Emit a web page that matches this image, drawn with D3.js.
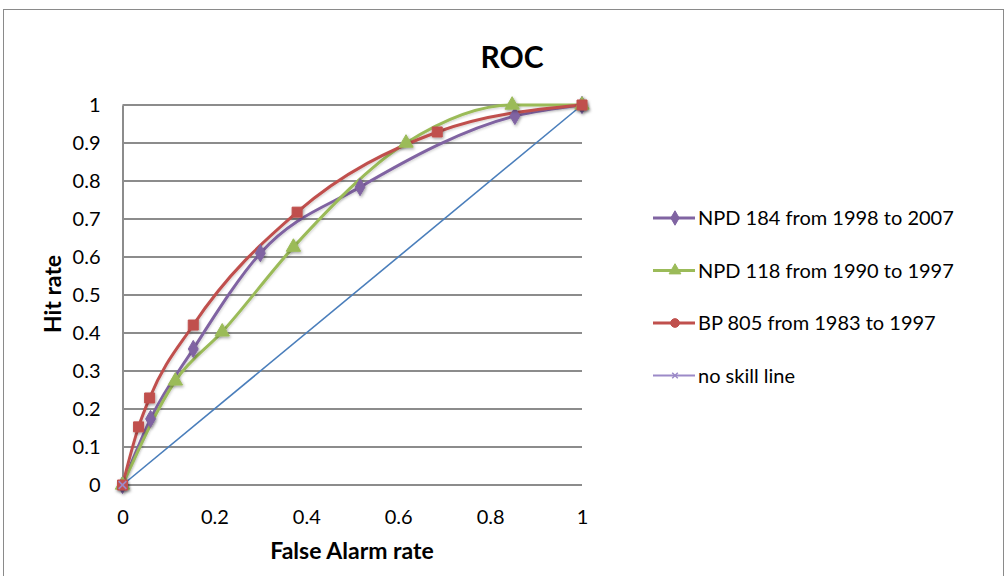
<!DOCTYPE html>
<html>
<head>
<meta charset="utf-8">
<script src="https://d3js.org/d3.v7.min.js"></script>
<style>
  html, body { margin: 0; padding: 0; background: #fff; }
  svg { display: block; }
  text { font-family: Lato, "Open Sans", sans-serif; fill: #000; }
</style>
</head>
<body>
<svg id="chart" width="1008" height="576"></svg>
<script>
// ROC curves: false alarm rate (x) vs hit rate (y)
const faNpd184 = [0, 0.061, 0.154, 0.30, 0.517, 0.854, 1];
const hitNpd184 = [0, 0.174, 0.358, 0.61, 0.784, 0.971, 1];
const faNpd118 = [0, 0.115, 0.217, 0.372, 0.617, 0.848, 1];
const hitNpd118 = [0, 0.274, 0.403, 0.626, 0.90, 1.0, 1];
const faBp805 = [0, 0.035, 0.059, 0.154, 0.38, 0.685, 1];
const hitBp805 = [0, 0.153, 0.229, 0.421, 0.718, 0.929, 1];
const faNoSkill = [0, 1];
const hitNoSkill = [0, 1];

const seriesNames = ["NPD 184 from 1998 to 2007", "NPD 118 from 1990 to 1997", "BP 805 from 1983 to 1997", "no skill line"];
const xTicks = [0, 0.2, 0.4, 0.6, 0.8, 1];
const yTicks = [0, 0.1, 0.2, 0.3, 0.4, 0.5, 0.6, 0.7, 0.8, 0.9, 1];
const chartTitle = "ROC";
const xTitle = "False Alarm rate";
const yTitle = "Hit rate";

const svg = d3.select("#chart");

// soft shadow under markers
const defs = svg.append("defs");
const f = defs.append("filter").attr("id", "shadow")
  .attr("x", "-50%").attr("y", "-50%").attr("width", "200%").attr("height", "200%");
f.append("feDropShadow").attr("dx", 1).attr("dy", 1.5).attr("stdDeviation", 1.4)
  .attr("flood-color", "#000").attr("flood-opacity", 0.35);
const fl = defs.append("filter").attr("id", "lineShadow")
  .attr("x", "-10%").attr("y", "-10%").attr("width", "120%").attr("height", "120%");
fl.append("feDropShadow").attr("dx", 0.8).attr("dy", 1.2).attr("stdDeviation", 1)
  .attr("flood-color", "#000").attr("flood-opacity", 0.18);

// outer chart frame
svg.append("rect").attr("x", 3.5).attr("y", 9.5).attr("width", 1000).attr("height", 620)
  .attr("fill", "#fff").attr("stroke", "#8a8a8a").attr("stroke-width", 1);

const x = d3.scaleLinear().domain([0, 1]).range([122.5, 582]);
const y = d3.scaleLinear().domain([0, 1]).range([485, 105]);

// horizontal gridlines
svg.append("g").selectAll("line").data(yTicks).join("line")
  .attr("x1", x(0)).attr("x2", x(1))
  .attr("y1", d => y(d)).attr("y2", d => y(d))
  .attr("stroke", "#8c8c8c").attr("stroke-width", 2);

// y axis
const yAxis = svg.append("g").attr("transform", `translate(${x(0)},0)`)
  .call(d3.axisLeft(y).tickValues(yTicks).tickSize(0).tickPadding(22).tickFormat(d3.format("")));
yAxis.select(".domain").attr("stroke", "#8c8c8c").attr("stroke-width", 2);
yAxis.selectAll("text").style("font-size", "20px").style("font-family", "Lato, sans-serif");

// x axis (labels only)
const xAxis = svg.append("g").attr("transform", `translate(0,${y(0)})`)
  .call(d3.axisBottom(x).tickValues(xTicks).tickSize(0).tickPadding(25).tickFormat(d3.format("")));
xAxis.select(".domain").remove();
xAxis.selectAll("text").style("font-size", "20px").style("font-family", "Lato, sans-serif");

// titles
svg.append("text").attr("x", 512).attr("y", 68).attr("text-anchor", "middle")
  .style("font-size", "30px").style("font-weight", "bold").text(chartTitle);
svg.append("text").attr("x", 352).attr("y", 559).attr("text-anchor", "middle")
  .style("font-size", "23px").style("font-weight", "bold").text(xTitle);
svg.append("text").attr("transform", "translate(61,294) rotate(-90)").attr("text-anchor", "middle")
  .style("font-size", "23px").style("font-weight", "bold").text(yTitle);

const series = [
  { name: seriesNames[0], xs: faNpd184, ys: hitNpd184, color: "#8064A2", marker: "diamond" },
  { name: seriesNames[1], xs: faNpd118, ys: hitNpd118, color: "#9BBB59", marker: "triangle" },
  { name: seriesNames[2], xs: faBp805, ys: hitBp805, color: "#C0504D", marker: "square" }
];

// smoothed lines without overshoot past the data
const line = d3.line().x(d => x(d[0])).y(d => y(d[1])).curve(d3.curveMonotoneX);

// no skill diagonal
svg.append("path").datum(d3.zip(faNoSkill, hitNoSkill))
  .attr("d", d3.line().x(d => x(d[0])).y(d => y(d[1])))
  .attr("fill", "none").attr("stroke", "#4A7EBB").attr("stroke-width", 1.6);

const symbolOf = {
  diamond: d3.symbol().type(d3.symbolDiamond).size(85),
  triangle: d3.symbol().type(d3.symbolTriangle).size(90),
  square: d3.symbol().type(d3.symbolSquare).size(100),
  circle: d3.symbol().type(d3.symbolCircle).size(75)
};

series.forEach(s => {
  svg.append("path").datum(d3.zip(s.xs, s.ys))
    .attr("d", line).attr("fill", "none")
    .attr("stroke", s.color).attr("stroke-width", 3)
    .attr("filter", "url(#lineShadow)");
});
series.forEach(s => {
  svg.append("g").attr("filter", "url(#shadow)")
    .selectAll("path").data(d3.zip(s.xs, s.ys)).join("path")
    .attr("transform", d => `translate(${x(d[0])},${y(d[1])})`)
    .attr("d", symbolOf[s.marker]())
    .attr("fill", s.color).attr("stroke", s.color).attr("stroke-width", 1);
});

// no skill marker at the origin
svg.append("g").selectAll("path").data(d3.zip(faNoSkill, hitNoSkill).slice(0, 1)).join("path")
  .attr("transform", d => `translate(${x(d[0])},${y(d[1])})`)
  .attr("d", d3.symbol().type(d3.symbolX).size(40)())
  .attr("fill", "none").attr("stroke", "#9C8AC8").attr("stroke-width", 1.6);

// legend
const legendRows = [
  { name: seriesNames[0], color: "#8064A2", marker: "diamond", w: 3 },
  { name: seriesNames[1], color: "#9BBB59", marker: "triangle", w: 3 },
  { name: seriesNames[2], color: "#C0504D", marker: "circle", w: 3 },
  { name: seriesNames[3], color: "#9C8AC8", marker: "x", w: 2 }
];
const lg = svg.append("g").selectAll("g").data(legendRows).join("g")
  .attr("transform", (d, i) => `translate(653,${218 + i * 52.5})`);
lg.append("line").attr("x1", 0).attr("x2", 42).attr("y1", 0).attr("y2", 0)
  .attr("stroke", d => d.color).attr("stroke-width", d => d.w);
lg.append("path").attr("transform", "translate(22,0)")
  .attr("d", d => d.marker === "x" ? d3.symbol().type(d3.symbolX).size(22)()
    : d3.symbol().type(d.marker === "diamond" ? d3.symbolDiamond : d.marker === "triangle" ? d3.symbolTriangle : d3.symbolCircle).size(60)())
  .attr("fill", d => d.marker === "x" ? "none" : d.color)
  .attr("stroke", d => d.color).attr("stroke-width", d => d.marker === "x" ? 1.5 : 1);
lg.append("text").attr("x", 45).attr("y", 0).attr("dy", "0.35em")
  .style("font-size", "20px").text(d => d.name);
</script>
</body>
</html>
